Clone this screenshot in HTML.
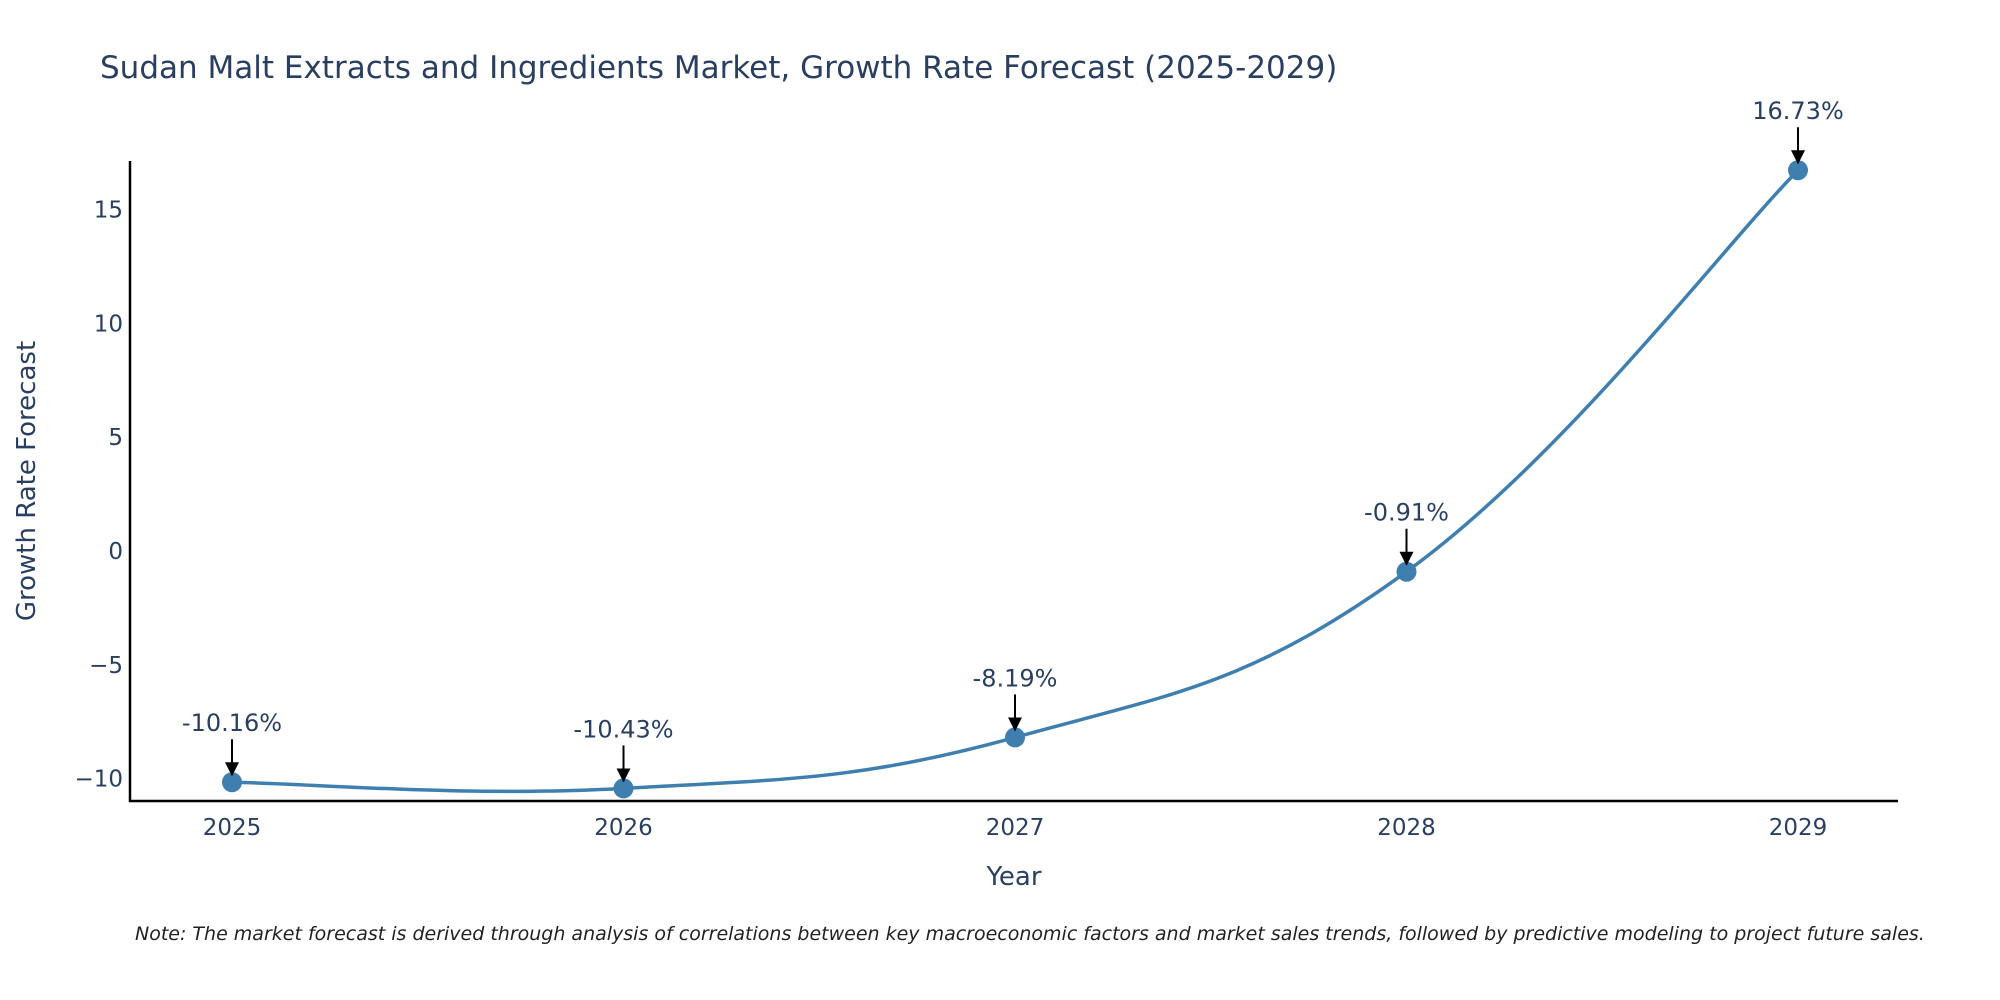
<!DOCTYPE html>
<html><head><meta charset="utf-8"><style>
html,body{margin:0;padding:0;background:#fff;overflow:hidden;}
svg{display:block;font-family:"DejaVu Sans","Liberation Sans",sans-serif;}
</style></head><body>
<svg id="chart" width="2000" height="1000" viewBox="0 0 2000 1000">
<text x="100" y="78" font-size="31" fill="#2a3f5f">Sudan Malt Extracts and Ingredients Market, Growth Rate Forecast (2025-2029)</text>
<g id="yticks"></g>
<g id="xticks"></g>
<line x1="130" y1="161" x2="130" y2="802" stroke="#000" stroke-width="2.5"/>
<line x1="129" y1="801" x2="1898" y2="801" stroke="#000" stroke-width="2.5"/>
<path id="line" fill="none" stroke="#3f7fb0" stroke-width="3.5"/>
<g id="marks"></g>
<g id="anns"></g>
<text x="1014" y="885" font-size="26" fill="#2a3f5f" text-anchor="middle">Year</text>
<text transform="translate(35,481) rotate(-90)" font-size="26" fill="#2a3f5f" text-anchor="middle">Growth Rate Forecast</text>
<text x="135" y="940" font-size="19" font-style="italic" fill="#222">Note: The market forecast is derived through analysis of correlations between key macroeconomic factors and market sales trends, followed by predictive modeling to project future sales.</text>
<defs><marker id="ah" markerWidth="14" markerHeight="14" refX="13" refY="7" orient="auto" markerUnits="userSpaceOnUse" viewBox="0 0 14 14"><path d="M0,0 L14,7 L0,14 z" fill="#000"/></marker></defs>
</svg>
<script>
const years = [2025, 2026, 2027, 2028, 2029];
const values = [-10.16, -10.43, -8.19, -0.91, 16.73];
const labels = ["-10.16%", "-10.43%", "-8.19%", "-0.91%", "16.73%"];
const yTickValues = [-10, -5, 0, 5, 10, 15];
const yTickLabels = ["\u221210", "\u22125", "0", "5", "10", "15"];
const NS = "http://www.w3.org/2000/svg";
function xs(v){ return 232 + (v - 2025) * 391.5; }
function ys(v){ return 551 - v * 22.76; }
function mk(tag, attrs){ const e = document.createElementNS(NS, tag); for (const k in attrs) e.setAttribute(k, attrs[k]); return e; }
const yt = document.getElementById('yticks');
yTickValues.forEach((v, i) => {
  const t = mk('text', {x: 123, y: ys(v) + 8, 'font-size': 23, fill: '#2a3f5f', 'text-anchor': 'end'});
  t.textContent = yTickLabels[i];
  
  
  yt.appendChild(t);
});
const xt = document.getElementById('xticks');
years.forEach(y => {
  const t = mk('text', {x: xs(y), y: 835, 'font-size': 23, fill: '#2a3f5f', 'text-anchor': 'middle'});
  t.textContent = y;
  
  
  xt.appendChild(t);
});
const pts = years.map((y, i) => [xs(y), ys(values[i])]);
let d = 'M' + pts[0][0] + ',' + pts[0][1];
const s = 0.2;
for (let i = 0; i < pts.length - 1; i++) {
  const p0 = pts[Math.max(0, i - 1)], p1 = pts[i], p2 = pts[i + 1], p3 = pts[Math.min(pts.length - 1, i + 2)];
  const c1 = [p1[0] + (p2[0] - p0[0]) * s, p1[1] + (p2[1] - p0[1]) * s];
  const c2 = [p2[0] - (p3[0] - p1[0]) * s, p2[1] - (p3[1] - p1[1]) * s];
  d += ' C' + c1.join(',') + ' ' + c2.join(',') + ' ' + p2.join(',');
}
document.getElementById('line').setAttribute('d', d);
const mg = document.getElementById('marks'), ag = document.getElementById('anns');
pts.forEach((p, i) => {
  const c = mk('circle', {cx: p[0], cy: p[1], r: 10, fill: '#3f7fb0'});
  
  
  mg.appendChild(c);
  const l = mk('line', {x1: p[0], y1: p[1] - 43, x2: p[0], y2: p[1] - 7, stroke: '#000', 'stroke-width': 2, 'marker-end': 'url(#ah)'});
  
  
  ag.appendChild(l);
  const t = mk('text', {x: p[0], y: p[1] - 51, 'font-size': 24, fill: '#2a3f5f', 'text-anchor': 'middle'});
  t.textContent = labels[i];
  
  
  ag.appendChild(t);
});
</script>
</body></html>
